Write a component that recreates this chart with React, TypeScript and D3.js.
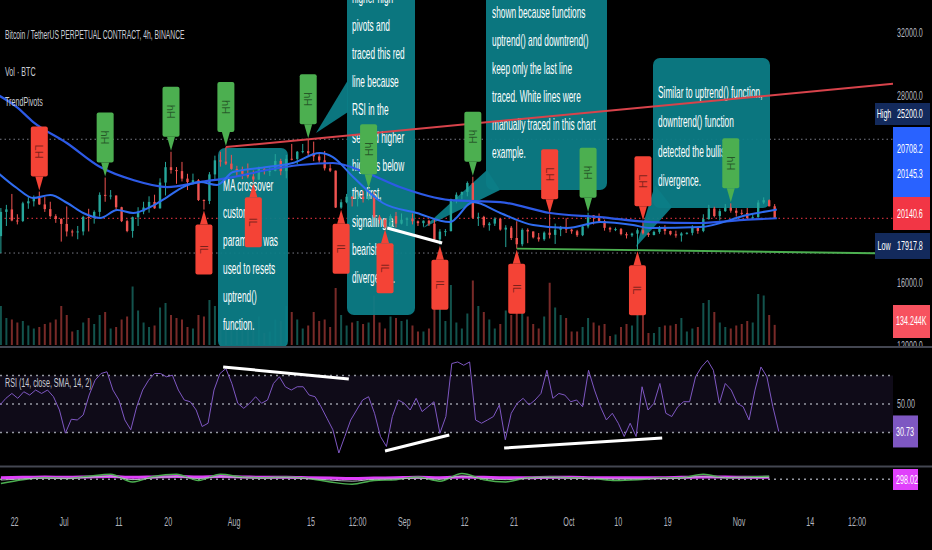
import React from "react";
import * as d3 from "d3";

// ---------- DATA ----------
const titleText = "Bitcoin / TetherUS PERPETUAL CONTRACT, 4h, BINANCE";
const volLegend = "Vol · BTC";
const pivotsLegend = "TrendPivots";
const rsiLegend = "RSI (14, close, SMA, 14, 2)";

// daily candles from 2022-06-19 to 2022-11-07
const firstOpen = 19000;
const closes = [
  20550, 20710, 20000, 19970, 21100, 21230, 21490, 21030, 20730, 20280, 20100, 19780,
  19300, 19250, 19300, 20230, 20190, 20550, 21640, 21580, 21600, 20850, 19960, 19330, 20210, 20570, 20830, 21190, 20780, 22430, 23410, 23230, 23160, 22680, 22460, 22580, 21310, 21250, 22950, 23850, 23770, 23640, 23300,
  23270, 22990, 22820, 22620, 23310, 23170, 23180, 23810, 23160, 23950, 23940, 24400, 24440, 24310, 24100, 23850, 23340, 23190, 20830, 21170, 21520, 21400, 21530, 21370, 21560, 20240, 20040, 19550, 20280, 19800, 20050,
  20130, 19950, 19830, 19990, 19800, 18790, 19290, 19320, 21360, 21650, 21830, 22400, 20170, 20230, 19700, 19800, 20110, 19420, 19540, 18880, 18480, 19400, 19300, 18920, 18800, 19220, 19080, 19410, 19590, 19420,
  19310, 19060, 19620, 20340, 20160, 19960, 19530, 19420, 19450, 19130, 19050, 19160, 19380, 19180, 19070, 19270, 19550, 19330, 19120, 19040, 19170, 19210, 19570, 19330, 20090, 20770, 20290, 20600, 20820, 20630, 20490,
  20480, 20160, 20210, 21150, 21300, 20910, 20140.6,
];
const highs = [
  20800, 21000, 21700, 20400, 21200, 21500, 21600, 21850, 21500, 21200, 20400, 20150,
  20900, 19420, 19650, 20300, 20750, 20650, 21800, 22750, 21950, 21600, 20880, 20050, 20250, 20850, 21200, 21550, 21650, 22700, 23750, 24400, 23420, 23750, 22990, 23000, 22650, 21350, 23100, 24150, 24400, 24700, 24200,
  23500, 23450, 23650, 23200, 23450, 23350, 23400, 24250, 23950, 24200, 24900, 24450, 24900, 25200, 25050, 24250, 24450, 23600, 23200, 21350, 21700, 21550, 21650, 21900, 22000, 21850, 20350, 20150, 20400, 20550, 20450,
  20200, 20450, 20000, 20000, 20050, 20150, 19450, 19450, 21400, 21800, 21850, 22500, 22800, 20500, 20300, 19900, 20200, 20150, 19700, 19650, 19950, 19500, 19500, 19300, 19200, 19300, 20400, 19800, 19650, 20150,
  19480, 19400, 19700, 20500, 20350, 20450, 20050, 19600, 19550, 19520, 19250, 19220, 19500, 19950, 19230, 19350, 19650, 19700, 19350, 19350, 19250, 19250, 19700, 19600, 20400, 21000, 20880, 20750, 21050, 21100, 20800,
  20700, 20800, 20400, 21300, 21480, 21350, 21050,
];
const lows = [
  17917.8, 19650, 19950, 19750, 19900, 20750, 20900, 21000, 20550, 20200, 19850, 18650,
  18980, 18980, 18800, 19050, 19300, 19800, 20250, 21200, 21350, 20650, 19900, 19250, 18900, 19650, 20400, 20500, 20750, 20760, 21600, 23000, 22350, 22500, 21950, 22300, 21250, 20700, 21050, 22600, 23450, 23550, 23250,
  22850, 22650, 22700, 22450, 22600, 22950, 22850, 23150, 22900, 22700, 23850, 23600, 24300, 24150, 23800, 23700, 23200, 23100, 20800, 20750, 21100, 20900, 20900, 21150, 21300, 20150, 19800, 19500, 19550, 19550, 19750,
  19650, 19750, 19650, 19600, 19650, 18650, 18450, 19000, 19300, 21100, 21350, 21550, 20100, 19650, 19550, 19350, 19650, 19350, 18300, 18750, 18200, 18350, 18550, 18850, 18650, 18700, 18850, 18500, 19000, 19200,
  19150, 18950, 19000, 19500, 19750, 19850, 19350, 19250, 19320, 19050, 18850, 18950, 18100, 19100, 18950, 19050, 19150, 19100, 19050, 18900, 18650, 19100, 19050, 19150, 19250, 20050, 20200, 20000, 20550, 20500, 20250,
  20350, 20050, 20050, 20180, 21050, 20900, 20100,
];
const volumesK = [
  260, 180, 170, 150, 160, 130, 110, 120, 140, 150, 170, 260,
  200, 90, 100, 150, 180, 140, 200, 220, 110, 120, 170, 190, 390, 230, 150, 120, 130, 250, 280, 200, 180, 170, 120, 110, 200, 190, 300, 260, 170, 120, 130,
  150, 160, 170, 150, 190, 80, 90, 170, 160, 260, 220, 170, 110, 130, 220, 160, 170, 120, 380, 200, 130, 150, 160, 140, 150, 330, 150, 110, 190, 180, 160,
  170, 130, 90, 90, 110, 330, 240, 160, 400, 150, 110, 210, 430, 260, 220, 170, 110, 140, 230, 200, 370, 260, 190, 140, 110, 190, 415, 250, 200, 180,
  90, 90, 120, 180, 150, 130, 140, 60, 70, 120, 140, 130, 380, 210, 80, 80, 120, 130, 130, 140, 180, 90, 110, 120, 280, 300, 220, 150, 120, 110, 130,
  140, 160, 150, 340, 330, 200, 134.244,
];

// moving averages (day offsets from 2022-06-19)
const maSlowDays = [0, 3.4, 6.4, 12.5, 18.6, 24.6, 30.8, 36.8, 42.8, 49, 55, 61, 67.2, 73.2, 82.3, 91.5, 100.6, 109.7, 118.8, 127.9, 136.5, 141.9];
const maSlowValues = [28030, 27260, 26300, 24960, 23420, 22590, 22140, 22460, 22780, 23230, 23550, 23680, 23040, 22140, 21310, 21180, 20480, 20220, 19900, 19840, 20050, 20145.3];
const maFastDays = [0, 3.4, 6.4, 9.5, 12.6, 15.5, 18.6, 21.7, 24.6, 27.7, 30.8, 33.7, 36.8, 39.9, 42.8, 49, 53.7, 58.6, 61, 64.7, 70.1, 76.3, 82.3, 86.5, 91.5, 97.5, 103.7, 109.7, 115.7, 118.8, 127.9, 136.5, 141.9];
const maFastValues = [23040, 22080, 21440, 21630, 21120, 20480, 20160, 20670, 20480, 20860, 21500, 22140, 22460, 22270, 23100, 23420, 23680, 24320, 24060, 22780, 21120, 20480, 19900, 21180, 20480, 19710, 19520, 19900, 19710, 19520, 19580, 20350, 20708.2];

// pivots
const pivotHighDates = ["2022-06-26", "2022-07-08", "2022-07-20", "2022-07-30", "2022-08-14", "2022-08-25", "2022-09-13", "2022-09-27", "2022-10-04", "2022-10-14", "2022-10-30"];
const pivotHighTypes = ["LH", "hH", "hH", "hH", "hH", "hH", "hH", "LH", "hH", "LH", "hH"];
const pivotLowDates = ["2022-07-26", "2022-08-04", "2022-08-20", "2022-08-28", "2022-09-07", "2022-09-21", "2022-10-13"];
const pivotLowTypes = ["lL", "lL", "lL", "lL", "lL", "lL", "lL"];
const redLineDates = ["2022-07-30", "2022-08-14"];
const greenLineDates = ["2022-09-21", "2022-10-13"];

// manually traced white lines [dayOffset, value]
const whitePriceLine = [[70.9, 19520], [80.9, 18560]];
const whiteRsiLines = [
  [[41.0, 76.0], [63.9, 67.5]],
  [[70.5, 17.0], [82.2, 28.2]],
  [[92.2, 19.1], [121.0, 26.1]],
];

// RSI (4h chart, sampled every 26h)
const rsiStartTime = Date.UTC(2022, 5, 19, 8);
const rsiStepHours = 26;
const rsiValues = [
  49.3, 54, 57.4, 54, 58.6, 56.3, 59.8, 57.4, 59.8, 55.1,
  45.8, 29.5, 39.3, 38.8, 42.3, 56.3, 66.7, 71.4, 72.6, 59.8,
  52.8, 38.8, 31.9, 48.1, 59.8, 66.7, 71.4, 71.4, 69.1, 70.2,
  59.8, 52.8, 51.6, 45.8, 34.2, 36.5, 59.8, 71.4, 74.9, 64.4,
  50.5, 47, 50.5, 55.1, 50.5, 52.8, 64.4, 69.1, 62.1, 59.8,
  62.1, 62.1, 56.3, 55.1, 48.1, 40, 31.9, 15.6, 27.2, 38.8,
  45.8, 52.8, 55.1, 43.5, 27.2, 20.2, 41.2, 52.8, 50.5, 45.8,
  54, 44.7, 48.1, 51.6, 29.5, 41.2, 78.4, 79.5, 77.2, 79.5,
  38.8, 36.5, 38.8, 41.2, 49.3, 24.9, 43.5, 50.5, 54, 49.3,
  52.8, 57.4, 73.7, 54, 57.4, 56.3, 51.6, 52.8, 48.1, 73.7,
  59.8, 48.1, 38.8, 43.5, 36.5, 27.2, 36.5, 27.2, 62.1, 45.8,
  50.5, 64.4, 43.5, 41.2, 48.1, 51.6, 51.6, 69.1, 76, 80.7,
  73.7, 50.5, 64.4, 59.8, 50.5, 48.1, 38.8, 59.8, 76, 69.1, 48.1, 30.73,
];

// bottom oscillator (sampled every 4 days)
const oscStartTime = Date.UTC(2022, 5, 19, 12);
const oscStepHours = 96;
const oscGreen = [286.7, 297, 302, 300, 306, 311, 291, 306, 311, 295, 311, 304, 302, 304, 300, 291, 285, 295, 297, 304, 293, 313, 297, 291, 302, 304, 302, 300, 295, 297, 301, 302, 311, 302, 304, 306];
const oscMagenta = [302, 303, 304, 303, 304, 305, 303, 304, 305, 304, 305, 304, 303, 303, 302, 301, 300, 301, 302, 303, 302, 304, 303, 302, 302, 303, 303, 302, 302, 302, 302, 303, 304, 304, 303, 303];
const oscGray = [296, 299, 301, 300, 303, 306, 297, 302, 305, 300, 305, 302, 301, 302, 300, 296, 293, 298, 299, 301, 298, 306, 300, 297, 301, 302, 301, 300, 299, 299, 300, 301, 305, 302, 302, 303];

// axes
const priceTicks = [32000, 28000, 16000, 12000];
const timeTickDates = [
  Date.UTC(2022, 5, 22), Date.UTC(2022, 6, 1), Date.UTC(2022, 6, 11), Date.UTC(2022, 6, 20), Date.UTC(2022, 7, 1),
  Date.UTC(2022, 7, 15), Date.UTC(2022, 7, 23, 12), Date.UTC(2022, 8, 1), Date.UTC(2022, 8, 12), Date.UTC(2022, 8, 21),
  Date.UTC(2022, 9, 1), Date.UTC(2022, 9, 10), Date.UTC(2022, 9, 19), Date.UTC(2022, 10, 1), Date.UTC(2022, 10, 14), Date.UTC(2022, 10, 22, 12),
];
const timeTickLabels = ["22", "Jul", "11", "20", "Aug", "15", "12:00", "Sep", "12", "21", "Oct", "10", "19", "Nov", "14", "12:00"];

const lastPrice = 20140.6;
const highValue = 25200;
const lowValue = 17917.8;
const maLastValues = [20708.2, 20145.3];
const lastVolumeLabel = "134.244K";
const rsiLast = 30.73;
const rsiMid = 50;
const oscLast = 298.02;

// callout texts
const callout1Lines = ["MA crossover", "custom", "parameter was", "used to resets", "uptrend()", "function."];
const callout2Lines = ["higher high", "pivots and", "traced this red", "line because", "RSI in the", "second higher", "highs is below", "the first,", "signalling a", "bearish", "divergence."];
const callout3Lines = ["shown because functions", "uptrend() and downtrend()", "keep only the last line", "traced. White lines were", "manually traced in this chart", "example."];
const callout4Lines = ["Similar to uptrend() function,", "downtrend() function", "detected the bullish", "divergence."];

// ---------- RENDER ----------
const FONT = "'Liberation Sans', Arial, sans-serif";

function ST({ x, y, size = 13, sx = 0.55, anchor = "start", fill = "#b2b5be", weight = 400, children }: any) {
  return (
    <text
      transform={`translate(${x},${y}) scale(${sx},1)`}
      fontSize={size}
      fontWeight={weight}
      textAnchor={anchor}
      dominantBaseline="central"
      fill={fill}
      fontFamily={FONT}
    >
      {children}
    </text>
  );
}

function Callout({ rect, tail, lines, x0, y0, step }: any) {
  const [rx, ry, rw, rh] = rect;
  return (
    <g>
      <rect x={rx} y={ry} width={rw} height={rh} rx={7} fill="#0c7d87" opacity={0.94} />
      {tail && <polygon points={tail.map((p: number[]) => p.join(",")).join(" ")} fill="#0c7d87" opacity={0.94} />}
      {lines.map((t: string, i: number) => (
        <ST key={i} x={x0} y={y0 + i * step} size={16} sx={0.52} fill="#ffffff">
          {t}
        </ST>
      ))}
    </g>
  );
}

export default function App() {
  const W = 932, H = 550;
  const PLOT_R = 893;
  const DAY = 864e5;
  const start = Date.UTC(2022, 5, 19);
  const dayDate = (d: number) => new Date(start + d * DAY);
  const dayIndex = (s: string) => Math.round((Date.parse(s + "T00:00:00Z") - start) / DAY);

  const x = d3.scaleUtc().domain([new Date(Date.UTC(2022, 6, 1)), new Date(Date.UTC(2022, 10, 1))]).range([64, 739]);
  const xd = (d: number) => x(dayDate(d));
  const y = d3.scaleLinear().domain([16000, 32000]).range([283, 33]);
  const yv = d3.scaleLinear().domain([0, 100]).range([345, 330]);
  const yr = d3.scaleLinear().domain([30, 70]).range([432.5, 375.5]);
  const yo = d3.scaleLinear().domain([270, 330]).range([490, 467]);

  const candles = closes.map((c, i) => ({
    d: i + 0.5,
    o: i === 0 ? firstOpen : closes[i - 1],
    c,
    h: highs[i],
    l: lows[i],
    v: volumesK[i],
  }));

  const lineGen = d3.line<[number, number]>().x((p) => p[0]).y((p) => p[1]).curve(d3.curveMonotoneX);
  const straight = d3.line<[number, number]>().x((p) => p[0]).y((p) => p[1]);

  const maSlowPath = lineGen(maSlowDays.map((d, i) => [xd(d), y(maSlowValues[i])]));
  const maFastPath = lineGen(maFastDays.map((d, i) => [xd(d), y(maFastValues[i])]));

  const rsiPath = straight(rsiValues.map((v, i) => [x(new Date(rsiStartTime + i * rsiStepHours * 3600e3)), yr(v)]));
  const oscPts = (arr: number[]) =>
    lineGen(arr.map((v, i) => [x(new Date(oscStartTime + i * oscStepHours * 3600e3)), yo(v)]));

  // trend lines extended to the right edge
  const endDay = (x.invert(PLOT_R).getTime() - start) / DAY;
  const trend = (dates: string[], useHigh: boolean) => {
    const i1 = dayIndex(dates[0]), i2 = dayIndex(dates[1]);
    const p1 = useHigh ? highs[i1] : lows[i1];
    const p2 = useHigh ? highs[i2] : lows[i2];
    const d1 = i1 + 0.5, d2 = i2 + 0.5;
    const pe = p1 + ((p2 - p1) * (endDay - d1)) / (d2 - d1);
    return straight([[xd(d1), y(p1)], [xd(endDay), y(pe)]]);
  };

  const green = "#4caf50";
  const red = "#f44336";
  const bw = 17, bh = 50, ph = 14;

  return (
    <svg width={W} height={H} style={{ position: "absolute", left: 0, top: 0, background: "#000" }}>
      <defs>
        <clipPath id="mainClip">
          <rect x={0} y={0} width={PLOT_R} height={346} />
        </clipPath>
        <clipPath id="axisClip">
          <rect x={PLOT_R} y={0} width={W - PLOT_R} height={346} />
        </clipPath>
      </defs>
      <rect x={0} y={0} width={W} height={H} fill="#000" />

      <g clipPath="url(#mainClip)">
        {/* volume */}
        {candles.map((k, i) => (
          <rect
            key={"v" + i}
            x={xd(k.d) - 1}
            y={yv(k.v)}
            width={2}
            height={yv(0) - yv(k.v)}
            fill={k.c >= k.o ? "#26a69a" : "#ef5350"}
            opacity={0.5}
          />
        ))}

        {/* price lines */}
        <line x1={0} x2={PLOT_R} y1={y(highValue)} y2={y(highValue)} stroke="#787b86" strokeDasharray="1.5,3" />
        <line x1={0} x2={PLOT_R} y1={y(lowValue)} y2={y(lowValue)} stroke="#787b86" strokeDasharray="1.5,3" />
        <line x1={0} x2={PLOT_R} y1={y(lastPrice)} y2={y(lastPrice)} stroke="#f23645" strokeDasharray="1.5,3" />

        {/* callouts */}
        <Callout rect={[218, 148, 70, 200]} lines={callout1Lines} x0={223} y0={185} step={27.8} />
        <Callout rect={[347, -20, 68, 335]} tail={[[348, 80], [348, 112], [316, 133]]} lines={callout2Lines} x0={352} y0={-3} step={28} />
        <Callout rect={[486, -20, 121, 210]} tail={[[487, 170], [500, 190], [423, 228]]} lines={callout3Lines} x0={492} y0={12} step={28} />
        <Callout rect={[653, 58, 117, 150]} tail={[[655, 185], [672, 207], [636, 247]]} lines={callout4Lines} x0={658} y0={92} step={29.5} />

        {/* candles */}
        {candles.map((k, i) => {
          const col = k.c >= k.o ? "#26a69a" : "#ef5350";
          const cx = xd(k.d);
          const top = y(Math.max(k.o, k.c));
          const bot = y(Math.min(k.o, k.c));
          return (
            <g key={"c" + i}>
              <line x1={cx} x2={cx} y1={y(k.h)} y2={y(k.l)} stroke={col} strokeWidth={1} />
              <rect x={cx - 1.2} y={top} width={2.4} height={Math.max(1, bot - top)} fill={col} />
            </g>
          );
        })}

        {/* moving averages */}
        <path d={maSlowPath || ""} fill="none" stroke="#2d5ae6" strokeWidth={2.2} />
        <path d={maFastPath || ""} fill="none" stroke="#2f6cf0" strokeWidth={2} />

        {/* trend lines */}
        <path d={trend(redLineDates, true) || ""} stroke="#d8434b" strokeWidth={2} fill="none" />
        <path d={trend(greenLineDates, false) || ""} stroke="#4caf50" strokeWidth={2} fill="none" />

        {/* manual white line */}
        <path d={straight(whitePriceLine.map((p) => [xd(p[0]), y(p[1])]) as any) || ""} stroke="#fff" strokeWidth={3} />

        {/* pivot markers */}
        {pivotHighDates.map((s, i) => {
          const idx = dayIndex(s);
          const cx = xd(idx + 0.5);
          const tip = y(highs[idx]) - 1;
          const col = pivotHighTypes[i] === "hH" ? green : red;
          const bTop = tip - ph - bh;
          return (
            <g key={"ph" + i}>
              <rect x={cx - bw / 2} y={bTop} width={bw} height={bh} rx={2} fill={col} />
              <polygon points={`${cx - 4},${tip - ph} ${cx + 4},${tip - ph} ${cx},${tip}`} fill={col} />
              <text
                transform={`translate(${cx},${bTop + bh / 2}) rotate(90)`}
                fontSize={11}
                textAnchor="middle"
                dominantBaseline="central"
                fill="rgba(0,0,0,0.5)"
                fontFamily={FONT}
              >
                {pivotHighTypes[i]}
              </text>
            </g>
          );
        })}
        {pivotLowDates.map((s, i) => {
          const idx = dayIndex(s);
          const cx = xd(idx + 0.5);
          const tip = y(lows[idx]) + 1;
          const bTop = tip + ph;
          return (
            <g key={"pl" + i}>
              <rect x={cx - bw / 2} y={bTop} width={bw} height={bh} rx={2} fill={red} />
              <polygon points={`${cx - 4},${tip + ph} ${cx + 4},${tip + ph} ${cx},${tip}`} fill={red} />
              <text
                transform={`translate(${cx},${bTop + bh / 2}) rotate(90)`}
                fontSize={11}
                textAnchor="middle"
                dominantBaseline="central"
                fill="rgba(0,0,0,0.5)"
                fontFamily={FONT}
              >
                {pivotLowTypes[i]}
              </text>
            </g>
          );
        })}
      </g>

      {/* legends */}
      <ST x={5} y={35} size={13} sx={0.52} fill="#c9ccd4">{titleText}</ST>
      <ST x={5} y={72} size={13} sx={0.55} fill="#c9ccd4">{volLegend}</ST>
      <ST x={5} y={102} size={13} sx={0.55} fill="#c9ccd4">{pivotsLegend}</ST>

      {/* price axis */}
      <g clipPath="url(#axisClip)">
        {priceTicks.map((p) => (
          <ST key={p} x={897} y={y(p)} size={13} sx={0.55} fill="#b2b5be">{p.toFixed(1)}</ST>
        ))}
      </g>
      {/* axis badges */}
      <rect x={875} y={103} width={18} height={22} fill="#132a5c" />
      <ST x={884} y={114} size={13} sx={0.55} anchor="middle" fill="#fff">High</ST>
      <rect x={893} y={103} width={37} height={22} fill="#132a5c" />
      <ST x={897} y={114} size={13} sx={0.55} fill="#fff">{highValue.toFixed(1)}</ST>

      <rect x={893} y={127} width={37} height={70} fill="#2962ff" />
      <ST x={897} y={149} size={13} sx={0.55} fill="#fff">{maLastValues[0].toFixed(1)}</ST>
      <ST x={897} y={174} size={13} sx={0.55} fill="#fff">{maLastValues[1].toFixed(1)}</ST>

      <rect x={893} y={197} width={37} height={33} fill="#f23645" />
      <ST x={897} y={214} size={13} sx={0.55} fill="#fff">{lastPrice.toFixed(1)}</ST>

      <rect x={875} y={233} width={18} height={26} fill="#132a5c" />
      <ST x={884} y={246} size={13} sx={0.55} anchor="middle" fill="#fff">Low</ST>
      <rect x={893} y={233} width={37} height={26} fill="#132a5c" />
      <ST x={897} y={246} size={13} sx={0.55} fill="#fff">{lowValue.toFixed(1)}</ST>

      <rect x={893} y={305} width={37} height={33} fill="#f7525f" />
      <ST x={896} y={321} size={13} sx={0.55} fill="#fff">{lastVolumeLabel}</ST>

      {/* pane separators */}
      <line x1={0} x2={W} y1={347} y2={347} stroke="#434651" strokeWidth={2} />
      <line x1={0} x2={W} y1={466.5} y2={466.5} stroke="#434651" strokeWidth={2} />

      {/* RSI pane */}
      <rect x={0} y={yr(70)} width={PLOT_R} height={yr(30) - yr(70)} fill="rgba(126,87,194,0.12)" />
      {[70, 50, 30].map((v) => (
        <line key={v} x1={0} x2={PLOT_R} y1={yr(v)} y2={yr(v)} stroke="#9598a1" strokeWidth={1.3} strokeDasharray="2,4" />
      ))}
      <path d={rsiPath || ""} fill="none" stroke="#7e57c2" strokeWidth={1} />
      {whiteRsiLines.map((ln, i) => (
        <path key={i} d={straight(ln.map((p) => [xd(p[0]), yr(p[1])]) as any) || ""} stroke="#fff" strokeWidth={3} />
      ))}
      <ST x={5} y={383} size={13} sx={0.55} fill="#c9ccd4">{rsiLegend}</ST>
      <ST x={897} y={yr(rsiMid)} size={13} sx={0.55} fill="#b2b5be">{rsiMid.toFixed(2)}</ST>
      <rect x={893} y={yr(rsiLast) - 16} width={25} height={32} fill="#7e57c2" />
      <ST x={896} y={yr(rsiLast)} size={13} sx={0.55} fill="#fff">{rsiLast.toFixed(2)}</ST>

      {/* bottom oscillator pane */}
      <line x1={0} x2={PLOT_R} y1={yo(298)} y2={yo(298)} stroke="#9598a1" strokeWidth={1.3} strokeDasharray="2,4" />
      <path d={oscPts(oscMagenta) || ""} fill="none" stroke="#e040fb" strokeWidth={3} />
      <path d={oscPts(oscGreen) || ""} fill="none" stroke="#4caf50" strokeWidth={1.5} />
      <path d={oscPts(oscGray) || ""} fill="none" stroke="#b2b5be" strokeWidth={1} />
      <rect x={893} y={469} width={25} height={21} fill="#e040fb" />
      <ST x={896} y={479.5} size={13} sx={0.55} fill="#fff">{oscLast.toFixed(2)}</ST>

      {/* time axis */}
      {timeTickDates.map((t, i) => (
        <ST key={i} x={x(new Date(t))} y={522} size={13} sx={0.55} anchor="middle" fill="#b2b5be">
          {timeTickLabels[i]}
        </ST>
      ))}
    </svg>
  );
}
